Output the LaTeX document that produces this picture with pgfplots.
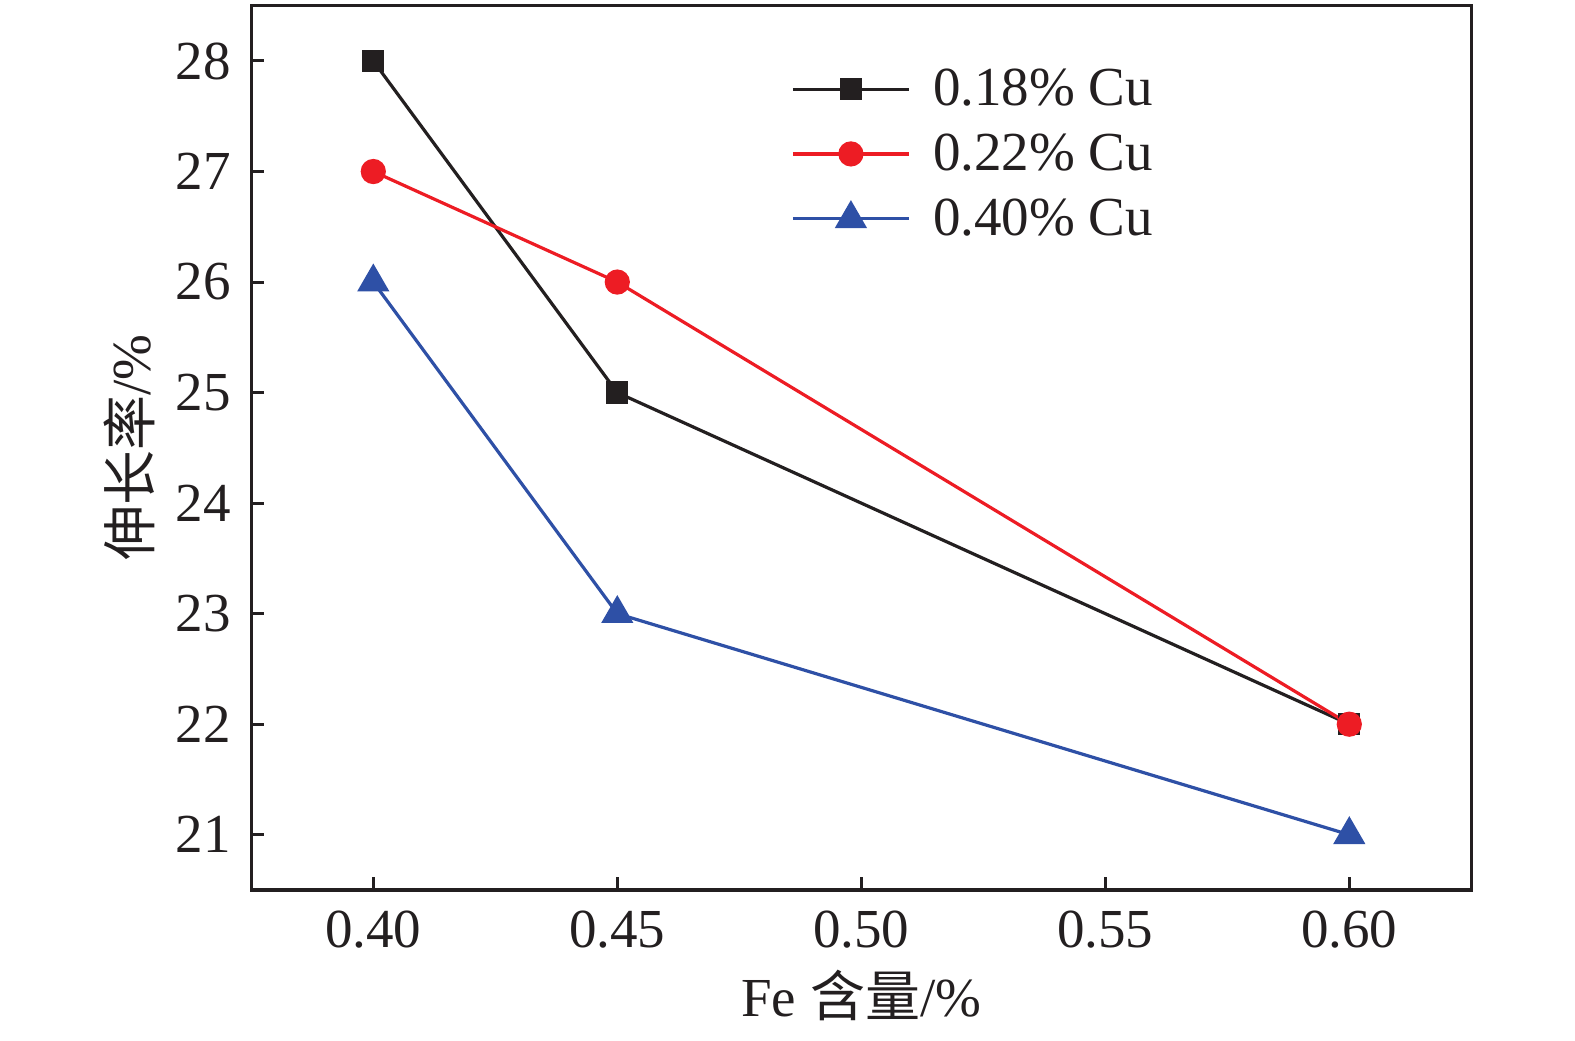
\documentclass[border=0pt]{standalone}
\usepackage{fontspec}
\setmainfont{Liberation Serif}
\newfontfamily\cjk{Noto Sans CJK SC}
\usepackage{pgfplots}
\pgfplotsset{compat=1.18}
\definecolor{cblack}{RGB}{35,31,32}
\definecolor{cred}{RGB}{237,28,36}
\definecolor{cblue}{RGB}{46,80,166}
\begin{document}
\begin{tikzpicture}
\path[use as bounding box] (-125.65pt,-75pt) rectangle (661.85pt,445pt);
\begin{axis}[
  at={(0pt,0pt)}, anchor=south west,
  scale only axis, width=610pt, height=442.15pt,
  xmin=0.375, xmax=0.625, ymin=20.5, ymax=28.5,
  xtick={0.40,0.45,0.50,0.55,0.60},
  xticklabels={0.40,0.45,0.50,0.55,0.60},
  ytick={21,22,23,24,25,26,27,28},
  /pgf/number format/assume math mode=true,
  tick pos=left, tick align=inside,
  major tick length=6.35pt,
  axis line style={line width=1.6pt, cblack},
  major tick style={line width=1.5pt, cblack},
  tick label style={font=\fontsize{27.5pt}{33pt}\selectfont, inner sep=0pt, text=cblack},
  yticklabel style={xshift=-10pt},
  xticklabel style={yshift=-10.5pt},
  label style={font=\fontsize{27.5pt}{33pt}\selectfont, text=cblack},
  xlabel={Fe {\cjk 含量}/\%},
  ylabel={{\cjk 伸长率}/\%},
  xlabel style={at={(axis description cs:0.5,-0.1425)}, anchor=base},
  ylabel style={at={(axis description cs:-0.083,0.5)}, anchor=base},
  legend style={draw=none, fill=none, at={(axis description cs:0.4374,0.933)}, anchor=north west,
    font=\fontsize{27.5pt}{33pt}\selectfont, text=cblack, row sep=12.6pt, nodes={inner sep=0pt},
    /tikz/every odd column/.style={column sep=11.3pt}},
  legend cell align=left,
  legend image code/.code={\draw[mark repeat=2, mark phase=2] plot coordinates {(0pt,0pt) (29pt,0pt) (58pt,0pt)};},
]
\addplot[cblack, line width=1.6pt, mark=square*, mark size=4.75pt, mark options={solid}] coordinates {(0.40,28) (0.45,25) (0.60,22)};
\addlegendentry{0.18\% Cu}
\addplot[cred, line width=1.6pt, mark=*, mark size=5.5pt, mark options={solid}] coordinates {(0.40,27) (0.45,26) (0.60,22)};
\addlegendentry{0.22\% Cu}
\addplot[cblue, line width=1.6pt, mark=triangle*, mark size=7.7pt, mark options={solid}] coordinates {(0.40,26) (0.45,23) (0.60,21)};
\addlegendentry{0.40\% Cu}
\end{axis}
\end{tikzpicture}
\end{document}
